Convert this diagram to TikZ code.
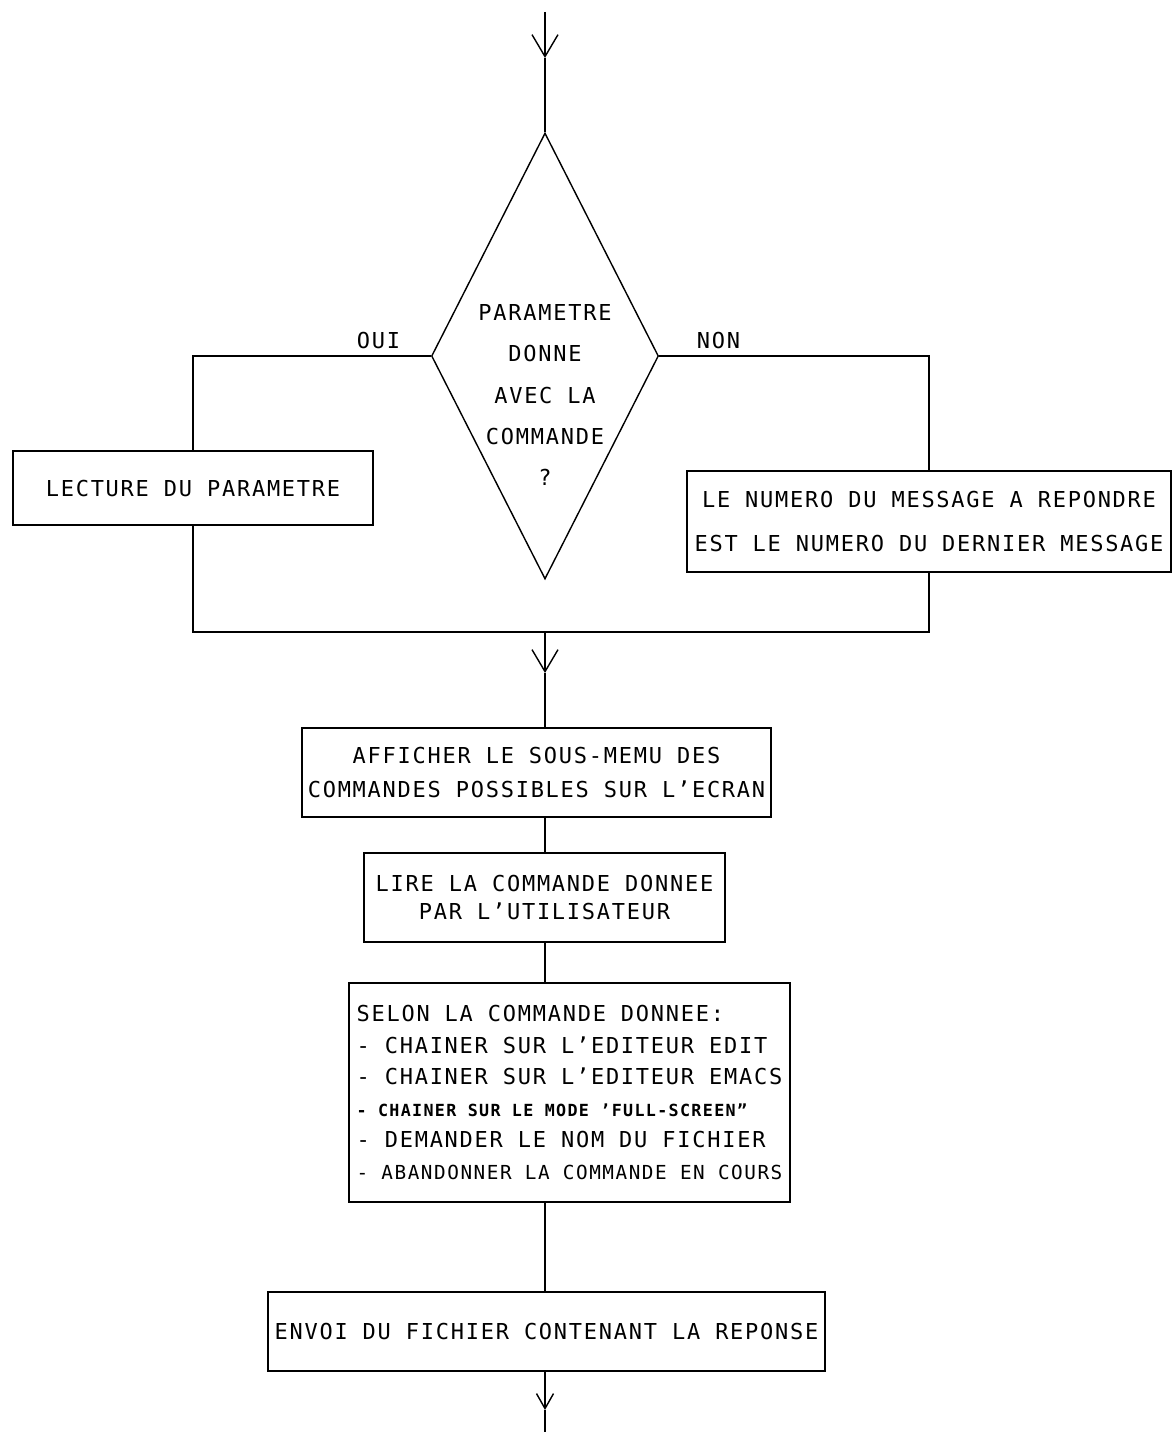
\documentclass[tikz,border=0pt]{standalone}
\usepackage{fontspec}
\newfontfamily\plotter[LetterSpace=8]{DejaVu Sans Mono}
\usetikzlibrary{shapes,arrows.meta,positioning}

\begin{document}
\begin{tikzpicture}[node distance = 2.5cm, line width=0.8pt, font=\plotter\fontsize{12.5}{18}\selectfont]
        \tikzstyle{decision} = [diamond, draw, minimum width=4.54cm, minimum height=8.92cm, inner sep=0pt]
        \tikzstyle{block} = [rectangle, draw, align=center, inner sep=0pt]
        \tikzstyle{line} = [draw, -{Straight Barb[length=4.4mm, width=5.2mm]}]
        \tikzstyle{endline} = [draw, -{Straight Barb[length=3mm, width=3.4mm]}]
        \tikzstyle{branch} = [inner sep=0pt]
        \tikzstyle{wide} = [font=\plotter\fontsize{12.5}{25.6}\selectfont]

    \useasboundingbox (0,0) rectangle (23.46,-28.64);

    \coordinate (start) at (10.9,-0.24);
    \coordinate (arrow_in) at (10.9,-1.16);
    \node [decision] at (10.9,-7.12) (parametre) {};
    \node [align=center, font=\plotter\fontsize{12.5}{23.6}\selectfont] at (10.9,-7.9) (question) {PARAMETRE\\DONNE\\AVEC LA\\COMMANDE\\?};
    \node [branch, above left=0.12cm and 0.6cm of parametre.west] (oui) {OUI};
    \node [branch, above right=0.12cm and 0.74cm of parametre.east] (non) {NON};

    \node [block, minimum width=7.2cm, minimum height=1.48cm] at (3.86,-9.76) (lecture) {LECTURE DU PARAMETRE};
    \node [block, wide, minimum width=9.68cm, minimum height=2.02cm] at (18.58,-10.43) (numero) {LE NUMERO DU MESSAGE A REPONDRE\\EST LE NUMERO DU DERNIER MESSAGE};

    \coordinate (merge) at (10.9,-12.64);
    \coordinate (arrow_mid) at (10.9,-13.46);

    \node [block, minimum width=9.38cm, minimum height=1.78cm, font=\plotter\fontsize{12.5}{19.5}\selectfont] at (10.73,-15.45) (afficher) {AFFICHER LE SOUS-MEMU DES\\COMMANDES POSSIBLES SUR L’ECRAN};
    \node [block, minimum width=7.22cm, minimum height=1.78cm, font=\plotter\fontsize{12.5}{15.5}\selectfont] at (10.89,-17.95) (lire) {LIRE LA COMMANDE DONNEE\\PAR L’UTILISATEUR};
    \node [block, align=left, minimum width=8.82cm, minimum height=4.38cm] at (11.39,-21.85) (selon) {SELON LA COMMANDE DONNEE:\\- CHAINER SUR L’EDITEUR EDIT\\- CHAINER SUR L’EDITEUR EMACS\\{\fontsize{9.5}{18}\selectfont\bfseries - CHAINER SUR LE MODE ’FULL-SCREEN”}\\- DEMANDER LE NOM DU FICHIER\\{\fontsize{11}{18}\selectfont - ABANDONNER LA COMMANDE EN COURS}};
    \node [block, minimum width=11.14cm, minimum height=1.58cm] at (10.93,-26.63) (envoi) {ENVOI DU FICHIER CONTENANT LA REPONSE};

    \coordinate (arrow_out) at (10.9,-28.2);
    \coordinate (end) at (10.9,-28.64);

    \path [line] (start) -- (arrow_in);
    \draw (arrow_in) -- (parametre.north);
    \draw (parametre.west) -| (lecture.north);
    \draw (parametre.east) -| (numero.north);
    \draw (lecture.south) |- (merge);
    \draw (numero.south) |- (merge);
    \path [line] (merge) -- (arrow_mid);
    \draw (arrow_mid) -- (arrow_mid |- afficher.north);
    \draw (afficher.south -| merge) -- (lire.north -| merge);
    \draw (lire.south -| merge) -- (selon.north -| merge);
    \draw (selon.south -| merge) -- (envoi.north -| merge);
    \path [endline] (envoi.south -| merge) -- (arrow_out);
    \draw (arrow_out) -- (end);

    \end{tikzpicture}
\end{document}
